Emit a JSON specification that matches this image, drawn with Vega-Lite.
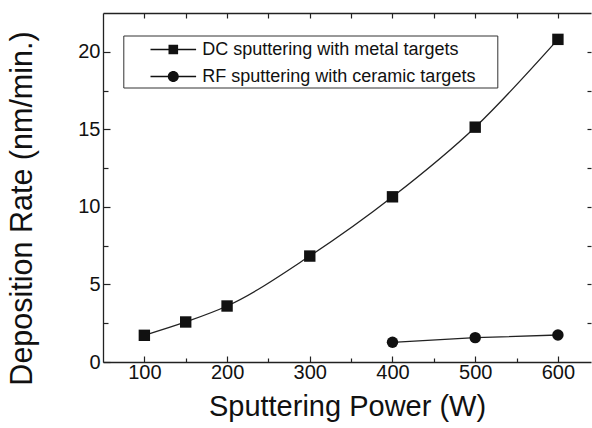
{
  "$schema": "https://vega.github.io/schema/vega-lite/v6.json",
  "width": 488,
  "height": 349,
  "autosize": "none",
  "padding": {"left": 103, "top": 13, "right": 1, "bottom": 66},
  "background": "white",
  "config": {
    "view": {"stroke": null},
    "font": "Liberation Sans",
    "axis": {
      "domainColor": "#222",
      "domainWidth": 1.3,
      "tickColor": "#222",
      "tickWidth": 1.2,
      "labelFont": "Liberation Sans",
      "labelFontSize": 20,
      "labelColor": "#111",
      "titleFont": "Liberation Sans",
      "titleFontWeight": "normal",
      "titleColor": "#111",
      "grid": false
    }
  },
  "data": {
    "values": [
      {"method": "DC sputtering with metal targets", "power": 100, "rate": 1.72},
      {"method": "DC sputtering with metal targets", "power": 150, "rate": 2.58},
      {"method": "DC sputtering with metal targets", "power": 200, "rate": 3.61},
      {"method": "DC sputtering with metal targets", "power": 300, "rate": 6.83},
      {"method": "DC sputtering with metal targets", "power": 400, "rate": 10.65},
      {"method": "DC sputtering with metal targets", "power": 500, "rate": 15.14},
      {"method": "DC sputtering with metal targets", "power": 600, "rate": 20.8},
      {"method": "RF sputtering with ceramic targets", "power": 400, "rate": 1.27},
      {"method": "RF sputtering with ceramic targets", "power": 500, "rate": 1.57},
      {"method": "RF sputtering with ceramic targets", "power": 600, "rate": 1.74}
    ]
  },
  "layer": [
    {
      "transform": [{"filter": "datum.method === 'DC sputtering with metal targets'"}],
      "mark": {"type": "line", "interpolate": "monotone", "color": "#222", "strokeWidth": 1.3},
      "encoding": {
        "x": {
          "field": "power", "type": "quantitative",
          "scale": {"domain": [50, 640], "nice": false, "zero": false},
          "axis": {
            "orient": "bottom",
            "title": "Sputtering Power (W)",
            "titleFontSize": 29,
            "values": [100, 150, 200, 250, 300, 350, 400, 450, 500, 550, 600],
            "labelExpr": "datum.value % 100 === 0 ? datum.label : ''",
            "tickSize": {"condition": {"test": "datum.value % 100 === 0", "value": -6}, "value": -4},
            "labelPadding": 6,
            "titlePadding": 10
          }
        },
        "y": {
          "field": "rate", "type": "quantitative",
          "scale": {"domain": [0, 22.5], "nice": false},
          "axis": {
            "orient": "left",
            "title": "Deposition Rate (nm/min.)",
            "titleFontSize": 30.5,
            "titleY": 195,
            "values": [0, 2.5, 5, 7.5, 10, 12.5, 15, 17.5, 20],
            "labelExpr": "datum.value % 5 === 0 ? datum.label : ''",
            "tickSize": {"condition": {"test": "datum.value % 5 === 0", "value": -7}, "value": -5},
            "labelPadding": 10,
            "titlePadding": 40
          }
        }
      }
    },
    {
      "transform": [{"filter": "datum.method === 'RF sputtering with ceramic targets'"}],
      "mark": {"type": "line", "color": "#222", "strokeWidth": 1.3},
      "encoding": {
        "x": {
          "field": "power", "type": "quantitative",
          "axis": {
            "orient": "top",
            "title": null,
            "values": [100, 150, 200, 250, 300, 350, 400, 450, 500, 550, 600],
            "labels": false,
            "tickSize": -5
          }
        },
        "y": {
          "field": "rate", "type": "quantitative",
          "axis": {
            "orient": "right",
            "title": null,
            "domain": false,
            "values": [2.5, 5, 7.5, 10, 12.5, 15, 17.5, 20],
            "labels": false,
            "tickSize": -4
          }
        }
      }
    },
    {
      "mark": {"type": "point", "filled": true, "opacity": 1, "color": "#111", "size": 130},
      "encoding": {
        "x": {"field": "power", "type": "quantitative", "axis": null},
        "y": {"field": "rate", "type": "quantitative", "axis": null},
        "shape": {
          "field": "method", "type": "nominal",
          "scale": {
            "domain": ["DC sputtering with metal targets", "RF sputtering with ceramic targets"],
            "range": ["square", "circle"]
          },
          "legend": null
        }
      }
    },
    {
      "mark": {"type": "point", "filled": true, "opacity": 0, "color": "#111", "size": 1},
      "encoding": {
        "x": {"field": "power", "type": "quantitative", "axis": null},
        "y": {"field": "rate", "type": "quantitative", "axis": null},
        "shape": {
          "field": "method", "type": "nominal",
          "scale": {
            "domain": ["DC sputtering with metal targets", "RF sputtering with ceramic targets"],
            "range": [
              "M-1.9,-0.0625H-0.4V-0.4H0.4V-0.0625H1.9V0.0625H0.4V0.4H-0.4V0.0625H-1.9Z M26.8,-0.01L26.8,0.01Z",
              "M-1.9,-0.0625H1.9V0.0625H-1.9Z M0.46,0A0.46,0.46 0 1,1 -0.46,0A0.46,0.46 0 1,1 0.46,0Z M26.8,-0.01L26.8,0.01Z"
            ]
          },
          "legend": {
            "title": null,
            "orient": "none",
            "legendX": 20.3,
            "legendY": 22.5,
            "strokeColor": "#333",
            "fillColor": "white",
            "padding": 2,
            "symbolSize": 576,
            "symbolOffset": 36,
            "symbolOpacity": 1,
            "symbolFillColor": "#111",
            "symbolStrokeWidth": 0,
            "labelFont": "Liberation Sans",
            "labelFontSize": 18,
            "labelColor": "#111",
            "labelOffset": 17,
            "labelLimit": 500,
            "rowPadding": 6
          }
        }
      }
    }
  ],
  "resolve": {
    "axis": {"x": "independent", "y": "independent"},
    "scale": {"shape": "independent"}
  }
}
